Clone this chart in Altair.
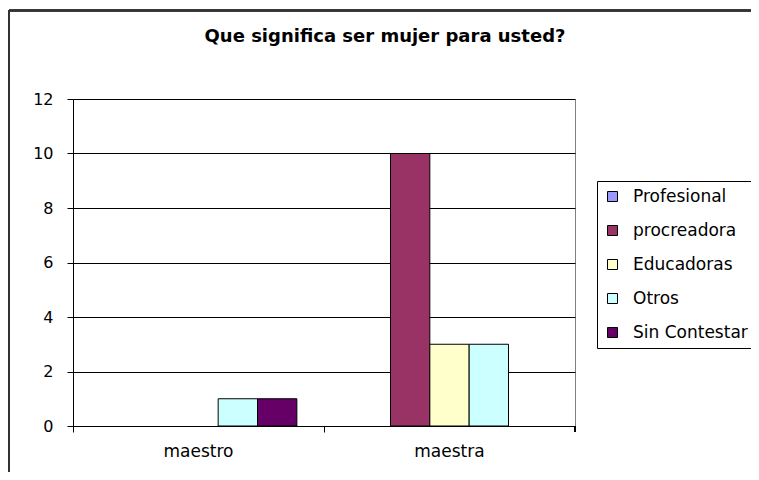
import altair as alt
import pandas as pd

categories = ["maestro", "maestra"]
series = ["Profesional", "procreadora", "Educadoras", "Otros", "Sin Contestar"]
values_maestro = [0, 0, 0, 1, 1]
values_maestra = [0, 10, 3, 3, 0]
colors = ["#9999FF", "#993366", "#FFFFCC", "#CCFFFF", "#660066"]
title_text = "Que significa ser mujer para usted?"

rows = []
for cat, vals in zip(categories, [values_maestro, values_maestra]):
    for s, v in zip(series, vals):
        rows.append({"categoria": cat, "serie": s, "valor": v})
df = pd.DataFrame(rows)

FONT = "DejaVu Sans"
W, H = 502, 327

bars = alt.Chart(df).transform_filter("datum.valor > 0").mark_bar(
    stroke="black", strokeWidth=1
).encode(
    x=alt.X("categoria:N", sort=categories, title=None,
            scale=alt.Scale(domain=categories, paddingInner=0, paddingOuter=0),
            axis=alt.Axis(labelAngle=0, bandPosition=0, domainColor="black",
                          tickColor="black", tickSize=6, labelPadding=11,
                          labelFontSize=17, labelFont=FONT, labelColor="black",
                          grid=False)),
    xOffset=alt.XOffset("serie:N",
                        scale=alt.Scale(domain=series, paddingOuter=0.69, paddingInner=0)),
    y=alt.Y("valor:Q", title=None,
            scale=alt.Scale(domain=[0, 12], nice=False),
            axis=alt.Axis(values=[0, 2, 4, 6, 8, 10, 12], domainColor="black",
                          tickColor="black", tickSize=6, labelPadding=14,
                          labelFontSize=16, labelFont=FONT, labelColor="black",
                          gridColor="black", gridOpacity=1, gridWidth=1)),
    color=alt.Color("serie:N",
                    scale=alt.Scale(domain=series, range=colors),
                    legend=alt.Legend(title=None, orient="none", legendX=524, legendY=82,
                                      symbolType="square", symbolSize=100,
                                      symbolStrokeColor="black", symbolStrokeWidth=1,
                                      labelFontSize=17, labelFont=FONT, labelColor="black",
                                      labelOffset=12, rowPadding=16, padding=7,
                                      strokeColor="black", fillColor="white",
                                      labelLimit=300)),
)

end_tick = alt.Chart(df).mark_rule(color="black", strokeWidth=1).encode(
    x=alt.value(W), y=alt.value(H), y2=alt.value(H + 6)
)
border_top = alt.Chart(df).mark_rule(color="#333333", strokeWidth=1.5).encode(
    x=alt.value(-64), x2=alt.value(760), y=alt.value(-88.5)
)
border_left = alt.Chart(df).mark_rule(color="#333333", strokeWidth=1.5).encode(
    x=alt.value(-64), y=alt.value(-88.5), y2=alt.value(500)
)
title = alt.Chart(pd.DataFrame({"t": [title_text]})).mark_text(
    font=FONT, fontSize=18, fontWeight="bold", color="black",
    align="center", baseline="alphabetic"
).encode(text="t:N", x=alt.value(312), y=alt.value(-57))

chart = alt.layer(bars, end_tick, border_top, border_left, title).properties(
    width=W, height=H,
    padding={"left": 65, "top": 91, "right": 176, "bottom": 46},
    autosize=alt.AutoSizeParams(type="none"),
    background="white",
).configure_view(stroke="#808080", strokeWidth=1)

chart.save("out.html", embed_options={"renderer": "svg", "actions": False})
